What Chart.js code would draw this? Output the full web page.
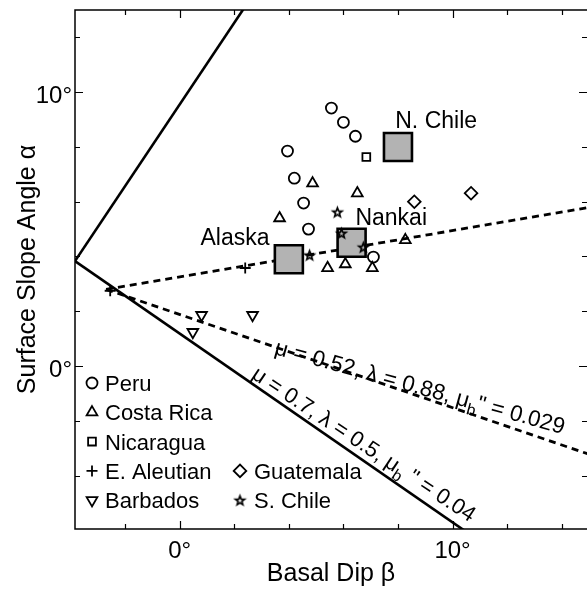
<!DOCTYPE html>
<html>
<head>
<meta charset="utf-8">
<title>Critical taper</title>
<script src="https://cdn.jsdelivr.net/npm/chart.js@4.4.1/dist/chart.umd.min.js"></script>
<style>
  html, body { margin: 0; padding: 0; overflow: hidden; background: #fff; }
  #wrap { width: 587px; height: 589px; }
  canvas { display: block; }
</style>
</head>
<body>
<div id="wrap"><canvas id="taper" width="587" height="589"></canvas></div>
<script>
// ── margins, [basal dip β, surface slope α] in degrees ──
const peru       = [[3.95,7.85],[4.2,6.86],[5.56,9.42],[6.0,8.9],[6.44,8.39],[4.54,5.95],[4.72,5.0],[7.1,3.98]];
const costaRica  = [[4.87,6.67],[6.51,6.31],[3.66,5.40],[8.27,4.6],[7.06,3.58],[6.07,3.72],[5.42,3.58]];
const nicaragua  = [[6.84,7.63]];
const eAleutian  = [[2.4,3.58],[-2.55,2.75]];
const barbados   = [[0.8,1.86],[2.67,1.86],[0.48,1.24]];
const guatemala  = [[8.6,6.0],[10.68,6.31]];
const sChile     = [[5.78,5.62],[5.93,4.85],[6.73,4.34],[4.76,4.05]];

// big grey squares and their names
const mainMargins = [[4.0,3.9],[6.3,4.5],[8.0,8.0]];
const mainNames   = ['Alaska','Nankai','N. Chile'];
const namePos     = [[3.29,4.42],[6.44,5.15],[7.9,8.69]];
const nameAlign   = ['right','left','left'];

// stability envelopes (end points)
const envSolidUp   = [[-3.84,3.83],[2.5,13.28]];
const envSolidLow  = [[-3.84,3.83],[10.6,-6.12]];
const envDashUp    = [[-2.7,2.8],[15,5.79]];
const envDashLow   = [[-2.7,2.8],[15,-3.22]];

// axes
const xMin = -3.84, xMax = 14.93, yMin = -5.95, yMax = 13.0;
const xTicks = [-2,0,2,4,6,8,10,12,14];
const yTicks = [-4,-2,0,2,4,6,8,10,12];
const majorTicks  = [0,10];
const majorLabels = ['0°','10°'];

const FONT = "'Liberation Sans', Arial, Helvetica, sans-serif";
const pts = a => a.map(([x,y]) => ({x, y}));

function starImage(r, lw) {
  const s = Math.ceil(2 * r + 2 * lw + 2);
  const c = document.createElement('canvas');
  c.width = c.height = s;
  const g = c.getContext('2d');
  g.translate(s / 2, s / 2 + 0.5);
  g.beginPath();
  for (let i = 0; i < 10; i++) {
    const rr = i % 2 ? r * 0.42 : r;
    const a = -Math.PI / 2 + i * Math.PI / 5;
    g.lineTo(rr * Math.cos(a), rr * Math.sin(a));
  }
  g.closePath();
  g.lineWidth = lw; g.strokeStyle = '#000'; g.lineJoin = 'miter';
  g.stroke();
  return c;
}
const STAR = starImage(4.8, 1.7);

const MK = {
  peru:      { pointStyle:'circle',   radius:5.5 },
  costaRica: { pointStyle:'triangle', radius:6.2 },
  nicaragua: { pointStyle:'rect',     radius:5.5 },
  eAleutian: { pointStyle:'cross',    radius:5.5 },
  barbados:  { pointStyle:'triangle', radius:6.2, rotation:180 },
  guatemala: { pointStyle:'rectRot',  radius:6.3 },
  sChile:    { pointStyle:STAR,       radius:5 },
};

function markerSet(label, data, mk) {
  return {
    type:'scatter', label, data:pts(data), order:0,
    pointStyle:mk.pointStyle, pointRadius:mk.radius, pointRotation:mk.rotation || 0,
    pointBorderColor:'#000', pointBackgroundColor:'rgba(0,0,0,0)', pointBorderWidth:1.8,
  };
}
function lineSet(data, dash) {
  return {
    type:'line', data:pts(data), order:2, showLine:true, pointRadius:0,
    borderColor:'#000', borderWidth: dash ? 2.8 : 2.6, borderDash: dash ? [7,5] : [], tension:0,
  };
}

// legend rows: [label, marker, column, row]
const legendRows = [
  ['Peru', MK.peru, 0, 0], ['Costa Rica', MK.costaRica, 0, 1], ['Nicaragua', MK.nicaragua, 0, 2],
  ['E. Aleutian', MK.eAleutian, 0, 3], ['Barbados', MK.barbados, 0, 4],
  ['Guatemala', MK.guatemala, 1, 3], ['S. Chile', MK.sChile, 1, 4],
];

function richText(ctx, parts, x, y, angle, size) {
  const main = `${size}px ${FONT}`, small = `${Math.round(size * 0.72)}px ${FONT}`;
  ctx.save();
  ctx.translate(x, y);
  ctx.rotate(angle * Math.PI / 180);
  ctx.textBaseline = 'alphabetic'; ctx.textAlign = 'left';
  let w = 0;
  parts.forEach(p => { ctx.font = p.sub ? small : main; w += ctx.measureText(p.t).width; });
  let cx = -w / 2;
  parts.forEach(p => {
    ctx.font = p.sub ? small : main;
    ctx.fillText(p.t, cx, p.sub ? size * 0.28 : 0);
    cx += ctx.measureText(p.t).width;
  });
  ctx.restore();
}

const decorations = {
  id:'decorations',
  afterDraw(chart) {
    const {ctx, chartArea:a, scales:{x, y}} = chart;
    ctx.save();
    ctx.strokeStyle = '#000'; ctx.fillStyle = '#000';

    // frame (right edge falls just past the canvas)
    ctx.lineWidth = 1.5;
    ctx.beginPath();
    ctx.moveTo(a.right + 2, a.top); ctx.lineTo(a.left, a.top);
    ctx.lineTo(a.left, a.bottom); ctx.lineTo(a.right + 2, a.bottom);
    ctx.stroke();

    // inward ticks on all four sides
    ctx.lineWidth = 1.2;
    ctx.beginPath();
    xTicks.forEach(v => {
      const px = Math.round(x.getPixelForValue(v)) + 0.5, len = majorTicks.includes(v) ? 8 : 5;
      ctx.moveTo(px, a.bottom); ctx.lineTo(px, a.bottom - len);
      ctx.moveTo(px, a.top); ctx.lineTo(px, a.top + len);
    });
    yTicks.forEach(v => {
      const py = Math.round(y.getPixelForValue(v)) + 0.5, len = majorTicks.includes(v) ? 8 : 5;
      ctx.moveTo(a.left, py); ctx.lineTo(a.left + len, py);
      ctx.moveTo(a.right, py); ctx.lineTo(a.right - len, py);
    });
    ctx.stroke();

    // tick labels
    ctx.font = `24px ${FONT}`;
    ctx.textBaseline = 'alphabetic';
    majorTicks.forEach((v, i) => {
      ctx.textAlign = 'center';
      ctx.fillText(majorLabels[i], x.getPixelForValue(v), 558);
      ctx.textAlign = 'right';
      ctx.fillText(majorLabels[i], a.left - 3, y.getPixelForValue(v) + 10.5);
    });

    // axis titles
    ctx.font = `25px ${FONT}`;
    ctx.textAlign = 'center';
    ctx.fillText('Basal Dip β', (a.left + a.right) / 2, 581);
    ctx.save();
    ctx.translate(35, (a.top + a.bottom) / 2);
    ctx.rotate(-Math.PI / 2);
    ctx.fillText('Surface Slope Angle α', 0, 0);
    ctx.restore();

    // margin names
    ctx.font = `23px ${FONT}`;
    mainNames.forEach((n, i) => {
      ctx.textAlign = nameAlign[i];
      ctx.fillText(n, x.getPixelForValue(namePos[i][0]), y.getPixelForValue(namePos[i][1]));
    });

    // envelope parameters along the curves
    richText(ctx, [{t:'μ = 0.52, λ = 0.88, μ'}, {t:'b', sub:true}, {t:'" = 0.029'}], 418, 394, 15.5, 22.5);
    richText(ctx, [{t:'μ = 0.7, λ = 0.5, μ'}, {t:'b', sub:true}, {t:' " = 0.04'}], 360, 450, 33.5, 22);

    // legend
    ctx.font = `22px ${FONT}`;
    ctx.textAlign = 'left';
    const colMark = [92, 240], colText = [105, 254];
    legendRows.forEach(([label, mk, c, r]) => {
      const base = 391 + r * 29.3;
      ctx.save();
      ctx.lineWidth = 1.8; ctx.strokeStyle = '#000'; ctx.fillStyle = 'rgba(0,0,0,0)';
      Chart.helpers.drawPoint(ctx, {pointStyle:mk.pointStyle, radius:mk.radius, rotation:mk.rotation || 0, borderWidth:1.8}, colMark[c], base - 8);
      ctx.restore();
      ctx.fillText(label, colText[c], base);
    });
    ctx.restore();
  }
};

new Chart(document.getElementById('taper'), {
  type:'scatter',
  data:{
    datasets:[
      markerSet('Peru', peru, MK.peru),
      markerSet('Costa Rica', costaRica, MK.costaRica),
      markerSet('Nicaragua', nicaragua, MK.nicaragua),
      markerSet('E. Aleutian', eAleutian, MK.eAleutian),
      markerSet('Barbados', barbados, MK.barbados),
      markerSet('Guatemala', guatemala, MK.guatemala),
      markerSet('S. Chile', sChile, MK.sChile),
      { type:'scatter', label:'main', data:pts(mainMargins), order:1, pointStyle:'rect', pointRadius:19.8,
        pointBackgroundColor:'#b3b3b3', pointBorderColor:'#000', pointBorderWidth:2.6 },
      lineSet(envSolidUp, false),
      lineSet(envSolidLow, false),
      lineSet(envDashUp, true),
      lineSet(envDashLow, true),
    ]
  },
  options:{
    responsive:false, animation:false, devicePixelRatio:1,
    layout:{ autoPadding:false, padding:{ left:75, top:10, right:-1, bottom:60 } },
    plugins:{ legend:{ display:false }, tooltip:{ enabled:false } },
    scales:{
      x:{ type:'linear', min:xMin, max:xMax, display:false },
      y:{ type:'linear', min:yMin, max:yMax, display:false },
    }
  },
  plugins:[decorations]
});
</script>
</body>
</html>
